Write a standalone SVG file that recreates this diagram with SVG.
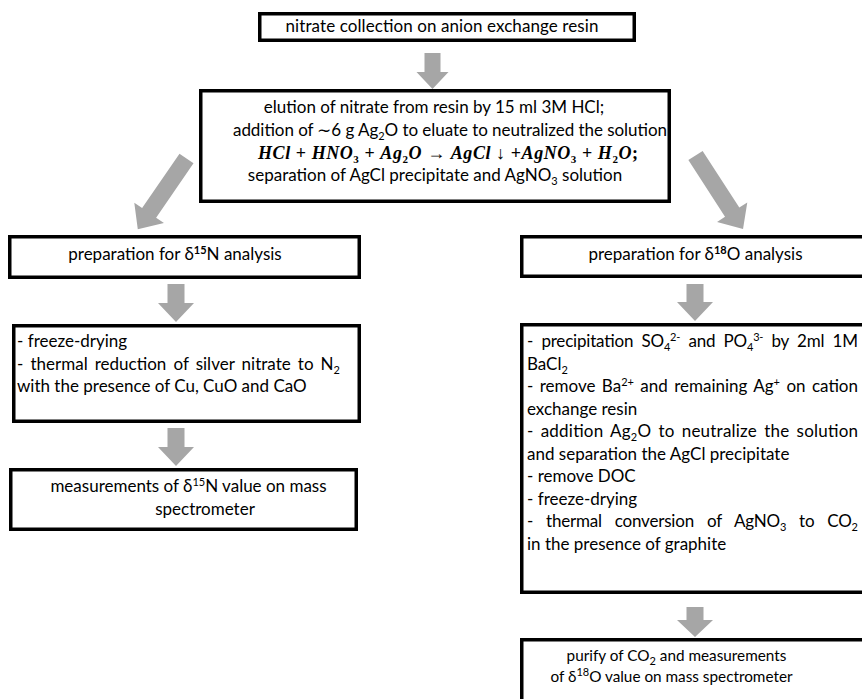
<svg xmlns="http://www.w3.org/2000/svg" width="862" height="699" viewBox="0 0 862 699">
<style>
.box{fill:#fff;stroke:#000;stroke-width:3.5}
.arr{fill:#a6a6a6}
.t{font-family:Lato,"Open Sans","Liberation Sans",sans-serif;font-size:17px;fill:#000}
.sm{font-size:15.3px}
.c{text-anchor:middle}
.s{font-size:11px}
.b{font-weight:bold}
.m{font-family:"Liberation Serif","DejaVu Serif",serif;font-weight:bold;font-size:18px;fill:#000}
.mi{font-style:italic}
</style>
<rect width="862" height="699" fill="#fff"/>
<g id="connectors">
<polygon class="arr" points="424.5,53 440.5,53 440.5,72 448.5,72 432.5,89 416.5,72 424.5,72"/>
<polygon class="arr" transform="translate(186.5,158.5) rotate(124.5)" points="0,-8.5 66,-8.5 66,-18 86,0 66,18 66,8.5 0,8.5"/>
<polygon class="arr" transform="translate(695.5,155.5) rotate(57.1)" points="0,-8.5 67.5,-8.5 67.5,-18 87.5,0 67.5,18 67.5,8.5 0,8.5"/>
<polygon class="arr" points="167.5,284 184.5,284 184.5,303 194,303 176,322 158,303 167.5,303"/>
<polygon class="arr" points="167.5,428 184.5,428 184.5,447 194,447 176,466 158,447 167.5,447"/>
<polygon class="arr" points="686.5,284 703.5,284 703.5,302 713,302 695,321 677,302 686.5,302"/>
<polygon class="arr" points="686.5,607 703.5,607 703.5,620 713,620 695,637 677,620 686.5,620"/>
</g>
<g id="n1">
<rect class="box" x="259.75" y="13.75" width="374.5" height="26.5"/>
<text class="t c" x="442" y="32" textLength="313" lengthAdjust="spacing">nitrate collection on anion exchange resin</text>
</g>
<g id="n2">
<rect class="box" x="200.75" y="90.75" width="468.5" height="110.5"/>
<text class="t c" x="434" y="113">elution of nitrate from resin by 15 ml 3M HCl;</text>
<text class="t c" x="450" y="135.5" textLength="434" lengthAdjust="spacing">addition of ∼6 g Ag<tspan class="s" dy="4">2</tspan><tspan dy="-4">O to eluate to neutralized the solution</tspan></text>
<text class="m c" x="448" y="158.5" textLength="380" lengthAdjust="spacing"><tspan class="mi">HCl</tspan> + <tspan class="mi">HNO</tspan><tspan class="s" dy="4">3</tspan><tspan dy="-4"> + </tspan><tspan class="mi">Ag</tspan><tspan class="s" dy="4">2</tspan><tspan class="mi" dy="-4">O</tspan> → <tspan class="mi">AgCl</tspan> ↓ +<tspan class="mi">AgNO</tspan><tspan class="s" dy="4">3</tspan><tspan dy="-4"> + </tspan><tspan class="mi">H</tspan><tspan class="s" dy="4">2</tspan><tspan class="mi" dy="-4">O</tspan>;</text>
<text class="t c" x="435" y="181">separation of AgCl precipitate and AgNO<tspan class="s" dy="4">3</tspan><tspan dy="-4"> solution</tspan></text>
</g>
<g id="n3">
<rect class="box" x="9.75" y="236.75" width="349.5" height="40.5"/>
<text class="t c" x="175" y="260">preparation for δ<tspan class="s b" dy="-6">15</tspan><tspan dy="6">N analysis</tspan></text>
</g>
<g id="n4">
<rect class="box" x="13.75" y="325.75" width="345.5" height="95.5"/>
<text class="t" x="17" y="347">- freeze-drying</text>
<text class="t" x="17" y="369.5" word-spacing="2.7" textLength="323" lengthAdjust="spacing">- thermal reduction of silver nitrate to N<tspan class="s" dy="4">2</tspan></text>
<text class="t" x="17" y="392">with the presence of Cu, CuO and CaO</text>
</g>
<g id="n5">
<rect class="box" x="10.75" y="469.75" width="345.5" height="59.5"/>
<text class="t c" x="188.5" y="492">measurements of δ<tspan class="s" dy="-6">15</tspan><tspan dy="6">N value on mass</tspan></text>
<text class="t c" x="205" y="514.5">spectrometer</text>
</g>
<g id="n6">
<rect class="box" x="521.75" y="236.75" width="400" height="39.5"/>
<text class="t c" x="695.5" y="260">preparation for δ<tspan class="s b" dy="-6">18</tspan><tspan dy="6">O analysis</tspan></text>
</g>
<g id="n7">
<rect class="box" x="521.75" y="324.75" width="400" height="267.5"/>
<text class="t" x="527" y="347" word-spacing="4.1" textLength="331" lengthAdjust="spacing">- precipitation SO<tspan class="s" dy="4">4</tspan><tspan class="s" dy="-10">2-</tspan><tspan dy="6"> and PO</tspan><tspan class="s" dy="4">4</tspan><tspan class="s" dy="-10">3-</tspan><tspan dy="6"> by 2ml 1M</tspan></text>
<text class="t" x="527" y="369.5">BaCl<tspan class="s" dy="4">2</tspan></text>
<text class="t" x="527" y="392" word-spacing="2.1" textLength="331" lengthAdjust="spacing">- remove Ba<tspan class="s" dy="-6">2+</tspan><tspan dy="6"> and remaining Ag</tspan><tspan class="s" dy="-6">+</tspan><tspan dy="6"> on cation</tspan></text>
<text class="t" x="527" y="414.5">exchange resin</text>
<text class="t" x="527" y="437" word-spacing="2.6" textLength="331" lengthAdjust="spacing">- addition Ag<tspan class="s" dy="4">2</tspan><tspan dy="-4">O to neutralize the solution</tspan></text>
<text class="t" x="527" y="459.5">and separation the AgCl precipitate</text>
<text class="t" x="527" y="482">- remove DOC</text>
<text class="t" x="527" y="504.5">- freeze-drying</text>
<text class="t" x="527" y="527" word-spacing="8.8" textLength="331" lengthAdjust="spacing">- thermal conversion of AgNO<tspan class="s" dy="4">3</tspan><tspan dy="-4"> to CO</tspan><tspan class="s" dy="4">2</tspan></text>
<text class="t" x="527" y="549.5">in the presence of graphite</text>
</g>
<g id="n8">
<rect class="box" x="521.75" y="639.75" width="400" height="100"/>
<text class="t c sm" x="676.5" y="661">purify of CO<tspan class="s" dy="4">2</tspan><tspan dy="-4"> and measurements</tspan></text>
<text class="t c sm" x="671.5" y="682">of δ<tspan class="s" dy="-6">18</tspan><tspan dy="6">O value on mass spectrometer</tspan></text>
</g>
</svg>
